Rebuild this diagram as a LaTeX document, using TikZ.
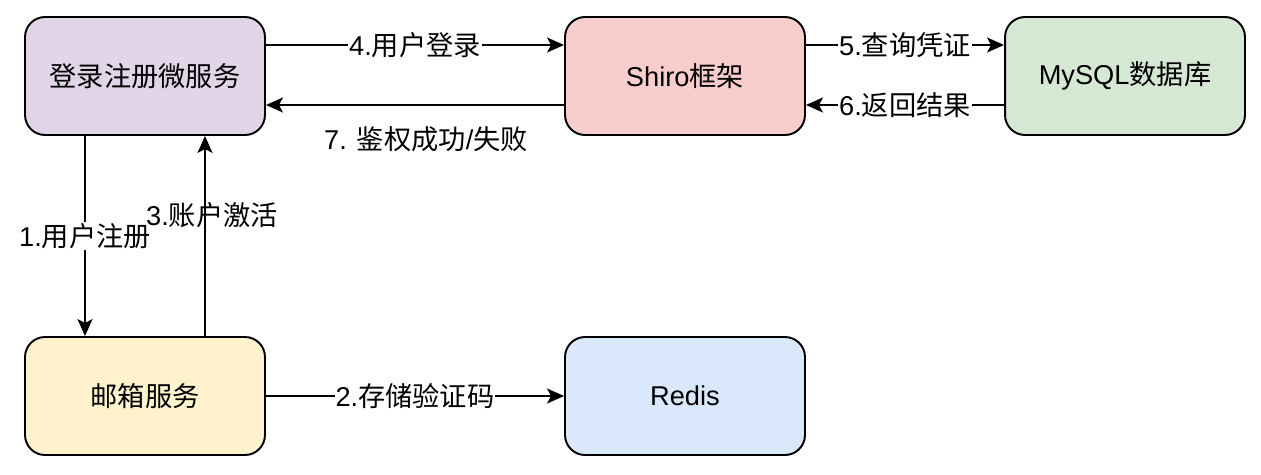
\documentclass[tikz,border=0pt]{standalone}
\usepackage{fontspec}
\setmainfont{Liberation Sans}
\newfontfamily\cjk{Noto Sans CJK SC}
\usetikzlibrary{arrows.meta,positioning,calc}
\definecolor{lilac}{HTML}{E1D5E7}
\definecolor{rose}{HTML}{F8CECC}
\definecolor{mint}{HTML}{D5E8D4}
\definecolor{cream}{HTML}{FFF2CC}
\definecolor{sky}{HTML}{DAE8FC}

\begin{document}
\begin{tikzpicture}[x=0.02cm,y=-0.02cm,
  box/.style={draw,line width=1.1pt,rounded corners=0.4cm,minimum width=4.8cm,minimum height=2.36cm,font=\fontsize{15.5}{18}\selectfont},
  flow/.style={line width=1.1pt,-{Stealth[length=0.34cm,width=0.3cm,inset=0.08cm]}},
  tag/.style={fill=white,inner sep=0.5pt,font=\fontsize{15.5}{18}\selectfont}]
\fill[white] (0,0) rectangle (1261,474);
% boxes
\node[box,fill=lilac] (login) at (145,76) {\cjk 登录注册微服务};
\node[box,fill=rose] (shiro) at (685,76) {Shiro{\cjk 框架}};
\node[box,fill=mint] (mysql) at (1125,76) {MySQL{\cjk 数据库}};
\node[box,fill=cream] (mail) at (145,396) {\cjk 邮箱服务};
\node[box,fill=sky] (redis) at (685,396) {Redis};
% registration
\draw[flow] ($(login.south)+(-60,0)$) -- node[tag] (lbl1) {1.{\cjk 用户注册}} ($(mail.north)+(-60,0)$);
\draw[flow] ($(mail.north)+(60,0)$) -- ($(login.south)+(60,0)$);
\node[tag,fill=none] (lbl3) at (212,215) {3.{\cjk 账户激活}};
\draw[flow] (mail) -- node[tag] (lbl2) {2.{\cjk 存储验证码}} (redis);
% login
\draw[flow] ($(login.east)+(0,-31)$) -- node[tag] (lbl4) {4.{\cjk 用户登录}} ($(shiro.west)+(0,-31)$);
\draw[flow] ($(shiro.east)+(0,-31)$) -- node[tag] (lbl5) {5.{\cjk 查询凭证}} ($(mysql.west)+(0,-31)$);
\draw[flow] ($(mysql.west)+(0,29)$) -- node[tag] (lbl6) {6.{\cjk 返回结果}} ($(shiro.east)+(0,29)$);
\draw[flow] ($(shiro.west)+(0,29)$) -- ($(login.east)+(0,29)$);
\node[tag,fill=none] (lbl7) at (426,139) {7. {\cjk 鉴权成功}/{\cjk 失败}};
\end{tikzpicture}
\end{document}
